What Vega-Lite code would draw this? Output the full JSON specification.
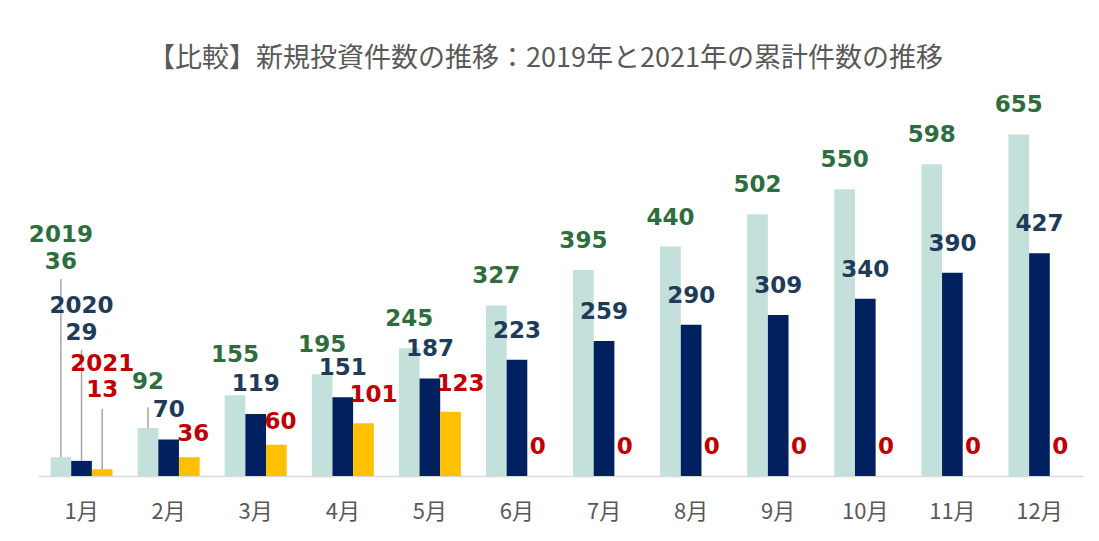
{
  "$schema": "https://vega.github.io/schema/vega-lite/v6.json",
  "width": 1045,
  "height": 365,
  "autosize": {"type": "none"},
  "padding": {"left": 38, "top": 111, "right": 16, "bottom": 65},
  "background": "white",
  "config": {"view": {"stroke": null}},
  "title": {
    "text": "【比較】新規投資件数の推移：2019年と2021年の累計件数の推移",
    "font": "Noto Sans CJK JP",
    "fontSize": 27,
    "fontWeight": "normal",
    "color": "#595959",
    "anchor": "middle",
    "frame": "group",
    "baseline": "middle",
    "offset": 8,
    "dx": -15
  },
  "data": {
    "values": [
      {"month": "1月", "series": "2019", "value": 36},
      {"month": "2月", "series": "2019", "value": 92},
      {"month": "3月", "series": "2019", "value": 155},
      {"month": "4月", "series": "2019", "value": 195},
      {"month": "5月", "series": "2019", "value": 245},
      {"month": "6月", "series": "2019", "value": 327},
      {"month": "7月", "series": "2019", "value": 395},
      {"month": "8月", "series": "2019", "value": 440},
      {"month": "9月", "series": "2019", "value": 502},
      {"month": "10月", "series": "2019", "value": 550},
      {"month": "11月", "series": "2019", "value": 598},
      {"month": "12月", "series": "2019", "value": 655},
      {"month": "1月", "series": "2020", "value": 29},
      {"month": "2月", "series": "2020", "value": 70},
      {"month": "3月", "series": "2020", "value": 119},
      {"month": "4月", "series": "2020", "value": 151},
      {"month": "5月", "series": "2020", "value": 187},
      {"month": "6月", "series": "2020", "value": 223},
      {"month": "7月", "series": "2020", "value": 259},
      {"month": "8月", "series": "2020", "value": 290},
      {"month": "9月", "series": "2020", "value": 309},
      {"month": "10月", "series": "2020", "value": 340},
      {"month": "11月", "series": "2020", "value": 390},
      {"month": "12月", "series": "2020", "value": 427},
      {"month": "1月", "series": "2021", "value": 13},
      {"month": "2月", "series": "2021", "value": 36},
      {"month": "3月", "series": "2021", "value": 60},
      {"month": "4月", "series": "2021", "value": 101},
      {"month": "5月", "series": "2021", "value": 123},
      {"month": "6月", "series": "2021", "value": 0},
      {"month": "7月", "series": "2021", "value": 0},
      {"month": "8月", "series": "2021", "value": 0},
      {"month": "9月", "series": "2021", "value": 0},
      {"month": "10月", "series": "2021", "value": 0},
      {"month": "11月", "series": "2021", "value": 0},
      {"month": "12月", "series": "2021", "value": 0}
    ]
  },
  "encoding": {
    "x": {
      "field": "month",
      "type": "nominal",
      "sort": ["1月", "2月", "3月", "4月", "5月", "6月", "7月", "8月", "9月", "10月", "11月", "12月"],
      "scale": {"paddingInner": 0.288, "paddingOuter": 0.144},
      "axis": {
        "title": null,
        "labelAngle": 0,
        "ticks": false,
        "grid": false,
        "domainColor": "#d9d9d9",
        "domainWidth": 1.5,
        "labelFont": "Noto Sans CJK JP",
        "labelFontSize": 22,
        "labelColor": "#595959",
        "labelPadding": 25
      }
    },
    "xOffset": {
      "field": "series",
      "type": "nominal",
      "sort": ["2019", "2020", "2021"],
      "scale": {"paddingInner": 0, "paddingOuter": 0}
    },
    "y": {
      "field": "value",
      "type": "quantitative",
      "scale": {"domain": [0, 700]},
      "axis": null
    }
  },
  "layer": [
    {
      "mark": {"type": "bar"},
      "encoding": {
        "fill": {
          "field": "series",
          "type": "nominal",
          "scale": {"domain": ["2019", "2020", "2021"], "range": ["#c3e0db", "#002060", "#ffc000"]},
          "legend": null
        }
      }
    },
    {
      "transform": [{"filter": "indexof(['4月','5月','6月','7月','8月','9月','10月','11月','12月'], datum.month) >= 0 && !(datum.series == '2021' && (datum.month == '4月' || datum.month == '5月'))"}],
      "mark": {"type": "text", "baseline": "middle", "dy": -29, "font": "DejaVu Sans", "fontWeight": "bold", "fontSize": 23},
      "encoding": {
        "text": {"field": "value", "type": "quantitative"},
        "color": {
          "condition": [
            {"test": "datum.series == '2019'", "value": "#2e6e3e"},
            {"test": "datum.series == '2020'", "value": "#1f3b5a"}
          ],
          "value": "#c00000"
        }
      }
    },
    {
      "transform": [{"filter": "datum.series == '2020' && (datum.month == '2月' || datum.month == '3月')"}],
      "mark": {"type": "text", "baseline": "middle", "dy": -30, "font": "DejaVu Sans", "fontWeight": "bold", "fontSize": 23, "color": "#1f3b5a"},
      "encoding": {"text": {"field": "value", "type": "quantitative"}}
    },
    {
      "transform": [{"filter": "datum.series == '2019' && datum.month == '3月'"}],
      "mark": {"type": "text", "baseline": "middle", "dy": -40, "font": "DejaVu Sans", "fontWeight": "bold", "fontSize": 23, "color": "#2e6e3e"},
      "encoding": {"text": {"field": "value", "type": "quantitative"}}
    },
    {
      "transform": [{"filter": "datum.series == '2021' && (datum.month == '2月' || datum.month == '3月')"}],
      "mark": {"type": "text", "baseline": "middle", "dy": -23, "dx": 4, "font": "DejaVu Sans", "fontWeight": "bold", "fontSize": 23, "color": "#c00000"},
      "encoding": {"text": {"field": "value", "type": "quantitative"}}
    },
    {
      "transform": [{"filter": "datum.series == '2021' && (datum.month == '4月' || datum.month == '5月')"}],
      "mark": {"type": "text", "baseline": "middle", "dy": -28, "dx": 10, "font": "DejaVu Sans", "fontWeight": "bold", "fontSize": 23, "color": "#c00000"},
      "encoding": {"text": {"field": "value", "type": "quantitative"}}
    },
    {
      "transform": [{"filter": "datum.month == '2月' && datum.series == '2019'"}],
      "layer": [
        {
          "mark": {"type": "rule", "color": "#a6a6a6", "strokeWidth": 1.5},
          "encoding": {"y2": {"datum": 132}}
        },
        {
          "mark": {"type": "text", "baseline": "middle", "dy": -46, "font": "DejaVu Sans", "fontWeight": "bold", "fontSize": 23, "color": "#2e6e3e"},
          "encoding": {"text": {"field": "value", "type": "quantitative"}}
        }
      ]
    },
    {
      "transform": [
        {"filter": "datum.month == '1月' && datum.series == '2019'"},
        {"calculate": "datum.series + '\\n' + datum.value", "as": "lbl"}
      ],
      "layer": [
        {
          "mark": {"type": "rule", "color": "#a6a6a6", "strokeWidth": 1.5},
          "encoding": {"y2": {"datum": 378}}
        },
        {
          "mark": {"type": "text", "baseline": "bottom", "lineBreak": "\n", "lineHeight": 27, "dy": -32, "font": "DejaVu Sans", "fontWeight": "bold", "fontSize": 23, "color": "#2e6e3e"},
          "encoding": {"y": {"datum": 378}, "text": {"field": "lbl", "type": "nominal"}}
        }
      ]
    },
    {
      "transform": [
        {"filter": "datum.month == '1月' && datum.series == '2020'"},
        {"calculate": "datum.series + '\\n' + datum.value", "as": "lbl"}
      ],
      "layer": [
        {
          "mark": {"type": "rule", "color": "#a6a6a6", "strokeWidth": 1.5},
          "encoding": {"y2": {"datum": 242}}
        },
        {
          "mark": {"type": "text", "baseline": "bottom", "lineBreak": "\n", "lineHeight": 27, "dy": -32, "font": "DejaVu Sans", "fontWeight": "bold", "fontSize": 23, "color": "#1f3b5a"},
          "encoding": {"y": {"datum": 242}, "text": {"field": "lbl", "type": "nominal"}}
        }
      ]
    },
    {
      "transform": [
        {"filter": "datum.month == '1月' && datum.series == '2021'"},
        {"calculate": "datum.series + '\\n' + datum.value", "as": "lbl"}
      ],
      "layer": [
        {
          "mark": {"type": "rule", "color": "#a6a6a6", "strokeWidth": 1.5},
          "encoding": {"y2": {"datum": 129}}
        },
        {
          "mark": {"type": "text", "baseline": "bottom", "lineBreak": "\n", "lineHeight": 26, "dy": -33, "font": "DejaVu Sans", "fontWeight": "bold", "fontSize": 23, "color": "#c00000"},
          "encoding": {"y": {"datum": 129}, "text": {"field": "lbl", "type": "nominal"}}
        }
      ]
    }
  ]
}
